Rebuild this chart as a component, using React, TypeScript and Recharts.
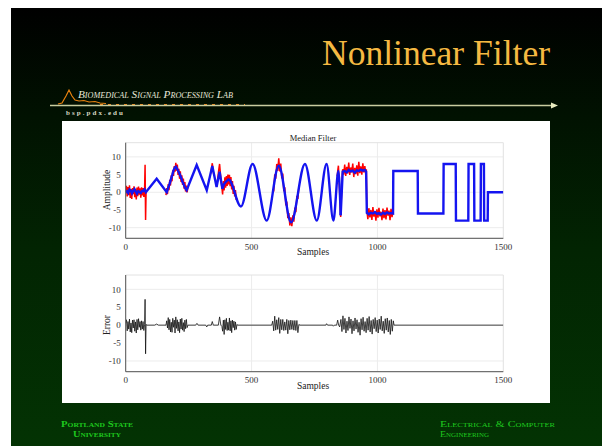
import { LineChart, Line, XAxis, YAxis, CartesianGrid, ReferenceArea } from "recharts";

const xTicks = [0, 500, 1000, 1500];
const yTicks = [-10, -5, 0, 5, 10];
const yDomain = [-13, 14];

// median filter output (blue), straight pieces
const filteredStart: [number, number][] = [
  [0, 0], [5, 0.3], [10, -0.2], [15, 0.8], [20, 0.5], [25, -0.3], [30, 0.4], [35, 0.9],
  [40, 0.2], [45, -0.4], [50, 0.3], [55, 0.1], [60, -0.2], [65, 0.4], [70, 0.3], [75, 0.8],
  [80, 0], [123, 3.8], [163, 0], [170, 1.5], [175, 2.5], [180, 3.8], [185, 4.9], [190, 6.2],
  [195, 7], [200, 7.2], [205, 6.5], [210, 5.8], [215, 5], [220, 4.2], [225, 3], [230, 2.3],
  [236, 1.2], [242, 0.6], [282, 7.7], [322, 0.6], [344, 7.4], [361, 1.5], [373, 5.8], [384, 1],
  [390, 2.2], [396, 2.8], [402, 3.2], [408, 3.6], [414, 3.4], [420, 2.6], [426, 1.5], [430, 0.7],
];
// chirp part, drawn smooth through its peaks
const filteredChirp: [number, number][] = [
  [430, 0.7], [458, -4], [504, 8], [560, -8], [608, 7.5], [657, -8.5], [712, 8],
  [759, -8], [798, 8], [825, -8], [845, 6], [854, -6.5],
];
const filteredSteps: [number, number][] = [
  [854, -6.5], [862, 5.8], [870, 6], [878, 5.6], [886, 6.3], [894, 5.9], [902, 6.1], [910, 5.5],
  [918, 6.2], [926, 6], [934, 6.4], [942, 6.1], [950, 6.3], [955, 5.8], [958, -5.8], [966, -6.2],
  [974, -5.8], [982, -6], [990, -5.6], [998, -6.1], [1006, -5.9], [1014, -6.3], [1022, -5.8],
  [1030, -6.1], [1038, -5.7], [1046, -6], [1054, -5.9], [1062, -6], [1063, 6], [1160, 6],
  [1161, -6], [1262, -6], [1263, 8], [1311, 8], [1312, -8], [1361, -8], [1362, 8], [1384, 8],
  [1385, -8], [1410, -8], [1411, 8], [1423, 8], [1424, -8], [1438, -8], [1439, 0], [1500, 0],
];

// noisy input (red), only where it shows from under the blue line
const noisyA: [number, number][] = [
  [0, 0.5], [3, 1.8], [6, -1.2], [9, 1.5], [12, -0.8], [15, 2], [18, -1.6], [21, 0.9], [24, -1.9],
  [27, 1.2], [30, -0.5], [33, 1.7], [36, -1.4], [39, 0.8], [42, -2], [45, 1.3], [48, -1.1],
  [51, 1.6], [54, -0.7], [57, 1.1], [60, -1.5], [63, 1.4], [66, -0.9], [69, 1.2], [72, -1.3],
  [75, 0.6], [77, 7.8], [79, -7.8], [81, 0.3], [84, 0.4],
];
const noisyB: [number, number][] = [
  [160, -0.8], [163, 1.2], [166, -0.5], [169, 2.3], [172, 0.6], [175, 3.5], [178, 1.9], [181, 4.8],
  [184, 3.1], [187, 6.2], [190, 4.6], [193, 7.4], [196, 5.8], [199, 8.3], [202, 6.1], [205, 7.8],
  [208, 4.9], [211, 6.6], [214, 3.8], [217, 5.9], [220, 2.9], [223, 4.8], [226, 2.1], [229, 3.9],
  [232, 1.0], [235, 2.9], [238, 0.2], [241, 1.9], [244, 0.0], [247, 1.5],
];
const noisyC: [number, number][] = [
  [338, 5.3], [341, 6.8], [344, 8.2], [347, 6.3], [350, 4.9],
];
const noisyD: [number, number][] = [
  [361, 1.5], [364, 3.0], [367, 4.8], [370, 6.5], [373, 8.0], [376, 5.5], [379, 3.2], [382, 1.4],
  [385, -0.6], [388, 3.2], [391, 0.5], [394, 4.2], [397, 1.3], [400, 4.6], [403, 1.8], [406, 5.0],
  [409, 2.2], [412, 4.9], [415, 1.7], [418, 4.3], [421, 0.8], [424, 3.2], [427, -0.5], [430, 1.8],
  [433, -1.2], [436, 0.6], [439, -2.2], [442, -1.6],
];
const noisyE: [number, number][] = [
  [584, 0.9], [588, 0.2], [592, 5.1], [596, 3.8], [600, 8.0], [604, 6.0], [608, 9.6], [612, 5.9],
  [616, 8.1], [620, 3.9], [624, 5.3], [628, 0.3], [632, 1.4], [636, -3.7], [640, -2.6], [644, -7.3],
  [648, -5.9], [652, -9.4], [656, -7.1], [660, -9.6], [664, -6.5], [668, -8.3], [672, -4.3],
  [676, -5.6], [680, -1.0], [684, -1.9], [688, 1.6],
];
const noisyF: [number, number][] = [
  [840, 4.5], [843, 6.5], [845, 7.5], [848, 3], [851, -2], [854, -7], [857, -1], [860, 4.5],
  [862, 6.5], [866, 5.0], [870, 7.8], [874, 4.6], [878, 7.2], [882, 5.3], [886, 8.4], [890, 4.9],
  [894, 7.0], [898, 5.6], [902, 8.1], [906, 4.3], [910, 6.9], [914, 5.1], [918, 7.6], [922, 4.7],
  [926, 8.6], [930, 5.4], [934, 7.3], [938, 5.0], [942, 8.2], [946, 5.6], [950, 7.4], [954, 4.8],
  [956, 6.5], [958, -5.2], [962, -7.6], [966, -4.5], [970, -7.1], [974, -5.0], [978, -7.8],
  [982, -4.2], [986, -6.9], [990, -5.3], [994, -8.0], [998, -4.8], [1002, -7.2], [1006, -4.4],
  [1010, -6.8], [1014, -5.5], [1018, -7.9], [1022, -4.6], [1026, -7.3], [1030, -5.0], [1034, -7.7],
  [1038, -4.3], [1042, -6.6], [1046, -5.2], [1050, -7.9], [1054, -4.7], [1058, -7.0], [1062, -5.2],
];

// error (black)
const errorA: [number, number][] = [
  [0, 0.5], [3, 1.5], [6, -1.6], [9, 1.0], [12, -1.1], [15, 1.7], [18, -1.9], [21, 0.6], [24, -2.1],
  [27, 1.4], [30, -0.8], [33, 1.5], [36, -1.7], [39, 0.9], [42, -2.2], [45, 1.6], [48, -1.3],
  [51, 1.8], [54, -0.6], [57, 1.0], [60, -1.4], [63, 1.2], [66, -1.1], [69, 1.0], [72, -1.5],
  [75, 0.2], [77, 7.2], [79, -8], [81, 0.2], [84, 0], [115, 0], [123, 0.3], [130, 0], [160, 0],
];
const errorB: [number, number][] = [
  [163, 1.2], [166, -0.8], [169, 2.1], [172, -1.3], [175, 1.6], [178, -1.9], [181, 0.8], [184, -2.0],
  [187, 1.9], [190, -0.6], [193, 1.4], [196, -2.2], [199, 2.3], [202, -0.9], [205, 1.5], [208, -1.6],
  [211, 0.9], [214, -2.1], [217, 1.7], [220, -1.1], [223, 1.9], [226, -1.4], [229, 0.7], [232, -1.8],
  [235, 1.4], [238, -1.0], [241, 1.6], [244, -0.7], [247, 0], [278, 0], [283, 0.5], [288, 0],
  [318, 0], [322, -0.5], [326, 0], [340, 0], [344, 1.0], [348, 0], [368, 0], [373, 2.3], [378, 0],
  [382, -0.3],
];
const errorC: [number, number][] = [
  [385, -1.7], [388, 1.4], [391, -2.6], [394, 1.5], [397, -1.2], [400, 1.9], [403, -1.5], [406, 0.8],
  [409, -1.4], [412, 2.0], [415, -1.6], [418, 1.2], [421, -2.1], [424, 1.4], [427, -0.7], [430, 1.1],
  [433, -1.4], [436, 0.9], [439, -1.2], [442, 0.2], [445, 0], [580, 0],
];
const errorD: [number, number][] = [
  [584, 1.1], [588, -1.6], [592, 2.5], [596, -1.4], [600, 1.5], [604, -1.2], [608, 2.1], [612, -2.3],
  [616, 1.6], [620, -1.3], [624, 1.6], [628, -1.5], [632, 0.9], [636, -1.4], [640, 1.6], [644, -2.4],
  [648, 1.3], [652, -1.3], [656, 1.4], [660, -1.2], [664, 1.3], [668, -1.4], [672, 1.3], [676, -1.5],
  [680, 1.3], [684, -2.1], [688, 0.2], [692, 0], [795, 0], [798, 0.4], [802, 0], [822, 0],
  [825, -0.3], [829, 0], [838, 0], [842, 1.4], [846, 0], [850, -0.5],
];
const errorE: [number, number][] = [
  [855, 1.6], [859, -1.8], [863, 2.6], [867, -1.2], [871, 1.9], [875, -2.2], [879, 1.1], [883, -1.5],
  [887, 2.3], [891, -0.9], [895, 1.7], [899, -2.4], [903, 1.2], [907, -1.6], [911, 2.0], [915, -1.1],
  [919, 1.5], [923, -2.0], [927, 0.8], [931, -2.8], [935, 1.8], [939, -1.3], [943, 2.2], [947, -1.7],
  [951, 1.0], [955, -2.1], [959, 1.9], [963, -1.4], [967, 2.4], [971, -1.9], [975, 1.3], [979, -2.5],
  [983, 1.6], [987, -1.0], [991, 2.1], [995, -1.8], [999, 1.4], [1003, -2.2], [1007, 1.7],
  [1011, -1.2], [1015, 2.5], [1019, -1.6], [1023, 1.1], [1027, -2.3], [1031, 1.8], [1035, -1.4],
  [1039, 2.0], [1043, -1.9], [1047, 1.3], [1051, -2.6], [1055, 1.6], [1059, -1.7], [1063, 1.2],
  [1066, 0], [1500, 0],
];

const pts = (a: [number, number][]) => a.map(([x, y]) => ({ x, y }));
const gap = (x: number) => ({ x, y: null });

const redData = [
  ...pts(noisyA), gap(120), ...pts(noisyB), gap(300), ...pts(noisyC), gap(355),
  ...pts(noisyD), gap(500), ...pts(noisyE), gap(760), ...pts(noisyF),
];
const errData = pts([...errorA, ...errorB, ...errorC, ...errorD, ...errorE]);

const serif = "'Liberation Serif', 'DejaVu Serif', serif";
const tick = { fontSize: 9, fill: "#333", fontFamily: serif };

function Plot({ top, margin, children }: any) {
  return (
    <div style={{ position: "absolute", left: 62, top }}>
      <LineChart width={488} height={140} margin={margin}>
        <CartesianGrid stroke="#ececec" horizontalValues={yTicks} verticalValues={[500, 1000]} />
        <ReferenceArea x1={0} x2={1500} y1={-13} y2={14} fill="none" stroke="#e2e2e2" />
        <XAxis
          type="number"
          dataKey="x"
          domain={[0, 1500]}
          ticks={xTicks}
          tick={tick}
          tickLine={false}
          tickSize={3}
          height={20}
          stroke="#555"
          allowDataOverflow
        />
        <YAxis
          type="number"
          dataKey="y"
          domain={yDomain}
          ticks={yTicks}
          tick={tick}
          tickLine={false}
          tickSize={3}
          width={30}
          stroke="#555"
          allowDataOverflow
        />
        {children}
      </LineChart>
    </div>
  );
}

export default function App() {
  return (
    <div style={{ position: "absolute", left: 0, top: 0, width: 602, height: 446, background: "#fff", overflow: "hidden" }}>
      <div
        style={{
          position: "absolute", left: 11, top: 8, width: 591, height: 438,
          background: "linear-gradient(180deg, #000000 0%, #011201 25%, #022402 55%, #033303 100%)",
        }}
      />
      <div style={{ position: "absolute", left: 62, top: 121, width: 488, height: 282, background: "#fff" }} />

      <Plot top={121} margin={{ top: 21.7, right: 46.7, left: 33.7, bottom: 2.7 }}>
        <Line data={redData} dataKey="y" stroke="#ff0000" strokeWidth={1.5} dot={false} isAnimationActive={false} />
        <Line data={pts(filteredStart)} dataKey="y" stroke="#1414f0" strokeWidth={2.4} dot={false} isAnimationActive={false} />
        <Line data={pts(filteredChirp)} dataKey="y" type="monotone" stroke="#1414f0" strokeWidth={2.4} dot={false} isAnimationActive={false} />
        <Line data={pts(filteredSteps)} dataKey="y" stroke="#1414f0" strokeWidth={2.4} dot={false} isAnimationActive={false} />
      </Plot>

      <Plot top={261} margin={{ top: 14, right: 46.7, left: 33.7, bottom: 9.3 }}>
        <Line data={errData} dataKey="y" stroke="#111" strokeWidth={0.8} dot={false} isAnimationActive={false} />
      </Plot>

      <svg width={602} height={446} style={{ position: "absolute", left: 0, top: 0, pointerEvents: "none" }}>
        <text x={322} y={65} fontSize={35} fill="#f5b942" fontFamily={serif} textLength={228} lengthAdjust="spacingAndGlyphs">Nonlinear Filter</text>

        <path d="M58 104 L62 103 L66 96 L69 90 L72 96 L75 100 L79 101 L84 100.5 L89 102 L95 101.5 L100 103 L106 103.5"
          fill="none" stroke="#e8820f" strokeWidth={1.2} />
        <line x1={100} y1={104.5} x2={245} y2={104.5} stroke="#e8820f" strokeWidth={1.2} strokeDasharray="3 5" />
        <line x1={50} y1={105.5} x2={552} y2={105.5} stroke="#c9cda0" strokeWidth={1.5} />
        <path d="M551 102.5 L558 105.5 L551 108.5 Z" fill="#e8ecc0" />
        <text x={78} y={98} fontSize={11} fontStyle="italic" fill="#e6e6d8" fontFamily={serif}
          style={{ fontVariant: "small-caps" }} textLength={155} lengthAdjust="spacingAndGlyphs">Biomedical Signal Processing Lab</text>
        <text x={66} y={115} fontSize={7} fontWeight="bold" fill="#d8d8c4" fontFamily={serif} textLength={57}>bsp.pdx.edu</text>

        <text x={313} y={141} fontSize={8.5} fill="#222" fontFamily={serif} textAnchor="middle">Median Filter</text>
        <text x={313} y={255} fontSize={9.5} fill="#222" fontFamily={serif} textAnchor="middle">Samples</text>
        <text transform="translate(110 190) rotate(-90)" fontSize={9.5} fill="#222" fontFamily={serif} textAnchor="middle">Amplitude</text>
        <text x={313} y={389} fontSize={9.5} fill="#222" fontFamily={serif} textAnchor="middle">Samples</text>
        <text transform="translate(110 325) rotate(-90)" fontSize={9.5} fill="#222" fontFamily={serif} textAnchor="middle">Error</text>

        <g fill="#1ec81e" fontFamily={serif} fontWeight="bold" style={{ fontVariant: "small-caps" }}>
          <text x={61} y={426.5} fontSize={8.5} textLength={72} lengthAdjust="spacingAndGlyphs">Portland State</text>
          <text x={73} y={436.5} fontSize={8.5} textLength={48} lengthAdjust="spacingAndGlyphs">University</text>
          <text x={440} y={426.5} fontSize={8.5} fontWeight="normal" textLength={115} lengthAdjust="spacingAndGlyphs">Electrical &amp; Computer</text>
          <text x={440} y={436.5} fontSize={8.5} fontWeight="normal" textLength={49} lengthAdjust="spacingAndGlyphs">Engineering</text>
        </g>
      </svg>
    </div>
  );
}
